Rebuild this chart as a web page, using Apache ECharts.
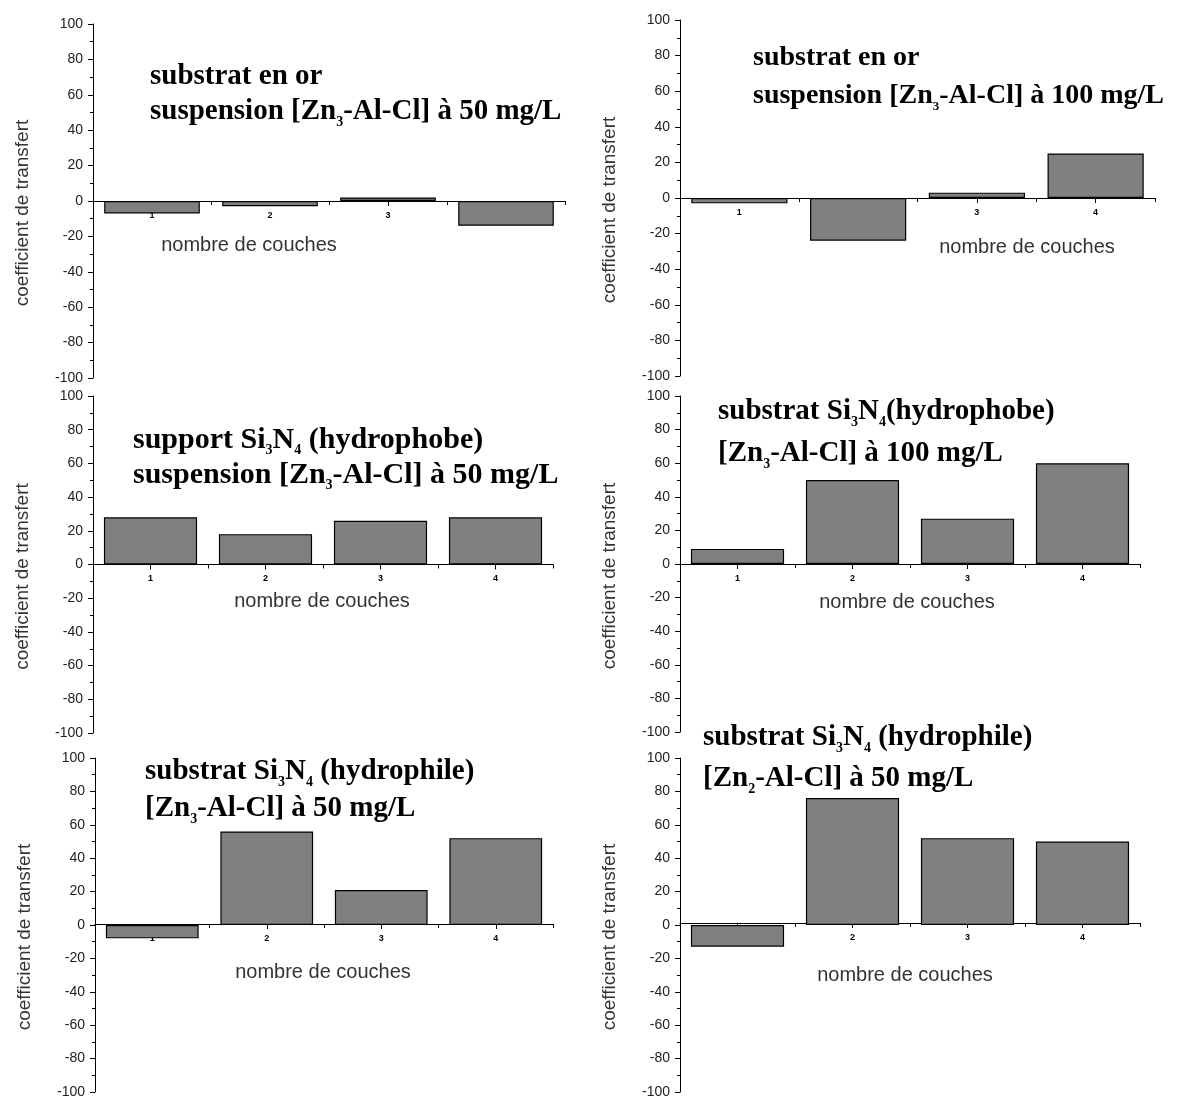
<!DOCTYPE html>
<html>
<head>
<meta charset="utf-8">
<script src="https://cdn.jsdelivr.net/npm/echarts@6/dist/echarts.min.js"></script>
<style>
html,body{margin:0;padding:0;background:#fff;}
#chart{width:1188px;height:1099px;}
</style>
</head>
<body>
<div id="chart"></div>
<script>
// ---- data ----
const categories = ['1', '2', '3', '4'];
const orSuspension50 = [-7, -3, 2, -14];
const orSuspension100 = [-3, -24, 3, 25];
const hydrophobeSuspension50 = [28, 18, 26, 28];
const hydrophobe100 = [9, 50, 27, 60];
const hydrophile50 = [-8, 56, 21, 52];
const hydrophileZn2_50 = [-13, 76, 52, 50];
const yMin = -100, yMax = 100, yStep = 20;
const yAxisName = 'coefficient de transfert';
const xAxisName = 'nombre de couches';
const titleLines = [
  ['{b|substrat en or}', '{b|suspension [Zn}{s|3}{b|-Al-Cl] à 50 mg/L}'],
  ['{b|substrat en or}', '{b|suspension [Zn}{s|3}{b|-Al-Cl] à 100 mg/L}'],
  ['{b|support Si}{s|3}{b|N}{s|4}{b| (hydrophobe)}', '{b|suspension [Zn}{s|3}{b|-Al-Cl] à 50 mg/L}'],
  ['{b|substrat Si}{s|3}{b|N}{s|4}{b|(hydrophobe)}', '{b|[Zn}{s|3}{b|-Al-Cl] à 100 mg/L}'],
  ['{b|substrat Si}{s|3}{b|N}{s|4}{b| (hydrophile)}', '{b|[Zn}{s|3}{b|-Al-Cl] à 50 mg/L}'],
  ['{b|substrat Si}{s|3}{b|N}{s|4}{b| (hydrophile)}', '{b|[Zn}{s|2}{b|-Al-Cl] à 50 mg/L}']
];

// ---- layout ----
const panels = [
  {data: orSuspension50, grid: {left: 93, top: 24, width: 472, height: 354}, fs: 29, t: [[150, 77], [150, 112]], xn: [249, 245]},
  {data: orSuspension100, grid: {left: 680, top: 20, width: 475, height: 356}, fs: 28, t: [[753, 58], [753, 96]], xn: [1027, 247]},
  {data: hydrophobeSuspension50, grid: {left: 93, top: 396, width: 460, height: 337}, fs: 30, t: [[133, 440], [133, 475]], xn: [322, 601]},
  {data: hydrophobe100, grid: {left: 680, top: 396, width: 460, height: 336}, fs: 29, t: [[718, 412], [718, 454]], xn: [907, 602]},
  {data: hydrophile50, grid: {left: 95, top: 758, width: 458, height: 336}, fs: 29, t: [[145, 772], [145, 809]], xn: [323, 972]},
  {data: hydrophileZn2_50, grid: {left: 680, top: 758, width: 460, height: 338}, fs: 29, t: [[703, 738], [703, 779]], xn: [905, 975]}
];

const serif = '"Liberation Serif", "DejaVu Serif", serif';
const sans = '"Liberation Sans", Arial, sans-serif';
function richFor(fs) {
  return {
    b: {fontFamily: serif, fontWeight: 'bold', fontSize: fs, color: '#111', lineHeight: 34},
    s: {fontFamily: serif, fontWeight: 'bold', fontSize: Math.round(fs * 0.48), color: '#111', lineHeight: 10, verticalAlign: 'bottom'}
  };
}

const grids = [], xAxes = [], yAxes = [], series = [], graphics = [];
panels.forEach((p, i) => {
  grids.push(Object.assign({containLabel: false}, p.grid));
  // place the category axis at value 0 (zero sits at the middle of the symmetric range)
  const zeroOffset = -p.grid.height * (0 - yMin) / (yMax - yMin);
  xAxes.push({
    type: 'category', gridIndex: i, data: categories, position: 'bottom', offset: zeroOffset,
    axisLine: {show: true, onZero: false, lineStyle: {color: '#000', width: 1}},
    axisTick: {show: true, alignWithLabel: true, length: 5, lineStyle: {color: '#000'}},
    axisLabel: {show: true, margin: 10, fontSize: 9, fontWeight: 'bold', color: '#000', fontFamily: sans},
    splitLine: {show: false}
  });
  // companion axis carrying the small boundary ticks between categories
  xAxes.push({
    type: 'category', gridIndex: i, data: categories, position: 'bottom', offset: zeroOffset,
    axisLine: {show: false, onZero: false},
    axisTick: {show: true, alignWithLabel: false, length: 4, lineStyle: {color: '#000'}},
    axisLabel: {show: false},
    splitLine: {show: false}
  });
  yAxes.push({
    type: 'value', gridIndex: i, min: yMin, max: yMax, interval: yStep,
    name: yAxisName, nameLocation: 'middle', nameGap: 61, nameRotate: 90,
    nameTextStyle: {fontFamily: sans, fontSize: 19, color: '#333', padding: [0, 24, 0, 0]},
    axisLine: {show: true, onZero: false, lineStyle: {color: '#000', width: 1}},
    axisTick: {show: true, length: 5, lineStyle: {color: '#000'}},
    minorTick: {show: true, splitNumber: 2, length: 3, lineStyle: {color: '#000'}},
    axisLabel: {margin: 10, fontSize: 14, color: '#222', fontFamily: sans},
    splitLine: {show: false}
  });
  series.push({
    type: 'bar', xAxisIndex: i * 2, yAxisIndex: i, data: p.data, barWidth: '81%',
    itemStyle: {color: '#808080', borderColor: '#000', borderWidth: 1.2},
    silent: true
  });
  const rich = richFor(p.fs);
  titleLines[i].forEach((line, k) => {
    graphics.push({
      type: 'text', x: p.t[k][0], y: p.t[k][1],
      style: {text: line, rich: rich, verticalAlign: 'middle', align: 'left'}
    });
  });
  graphics.push({
    type: 'text', x: p.xn[0], y: p.xn[1],
    style: {text: xAxisName, font: '20px ' + sans, fill: '#333', align: 'center', verticalAlign: 'middle'}
  });
});

const chart = echarts.init(document.getElementById('chart'));
chart.setOption({
  backgroundColor: '#fff',
  animation: false,
  grid: grids,
  xAxis: xAxes,
  yAxis: yAxes,
  series: series,
  graphic: graphics
});
</script>
</body>
</html>
